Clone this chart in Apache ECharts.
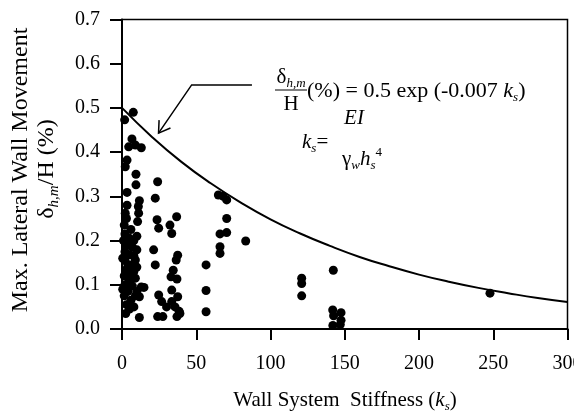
<!DOCTYPE html>
<html><head><meta charset="utf-8">
<script src="https://cdn.jsdelivr.net/npm/echarts@6/dist/echarts.min.js"></script>
<style>html,body{margin:0;padding:0;background:#fff}#c{width:574px;height:415px}</style>
</head><body><div id="c"></div>
<script>
// ---- data ----
const xTickLabels = ['0','50','100','150','200','250','300'];
const yTickLabels = ['0.0','0.1','0.2','0.3','0.4','0.5','0.6','0.7'];

const stiffness = [
  7.6,1.8,6.7,4.5,9,13,3.4,2.2,9.4,9.4,3.4,11.7,3.4,11,2.2,11.2,10.5,3,1.5,6,2,5,1,8,3,7,10,2,5,9,2,6,3,8,1.5,5,2,7,14.8,4,10,1.5,11.7,6,3,8,2.5,11.7,
  4,8,4,10,6,9,4,9,5,0.5,0.5,10,13,
  24,22.4,23.6,24.7,21.3,22.4,24.7,24,27.5,26.7,30,
  36.8,32.3,33.5,37.5,36.5,34.5,33,37,33.5,37.5,33.5,35.7,39,37,38.5,
  56.6,56.6,56.6,
  64.9,68.2,70.5,70.5,66,70.5,66,66,83.3,
  121,121,121,
  142.3,141.9,147.5,142.5,147.5,142,147,
  247.8
];
const movement = [
  0.49,0.473,0.43,0.412,0.416,0.41,0.382,0.367,0.35,0.326,0.309,0.29,0.28,0.277,0.262,0.262,0.243,0.25,0.235,0.225,0.215,0.205,0.2,0.2,0.19,0.185,0.179,0.175,0.168,0.156,0.155,0.145,0.135,0.13,0.12,0.11,0.1,0.097,0.094,0.085,0.085,0.075,0.073,0.065,0.055,0.05,0.035,0.026,
  0.19,0.165,0.145,0.14,0.125,0.115,0.095,0.075,0.045,0.16,0.09,0.21,0.095,
  0.333,0.296,0.247,0.228,0.179,0.145,0.077,0.028,0.028,0.062,0.05,
  0.254,0.235,0.216,0.167,0.156,0.133,0.118,0.113,0.088,0.073,0.062,0.05,0.035,0.028,0.04,
  0.145,0.087,0.039,
  0.303,0.30,0.292,0.25,0.215,0.218,0.186,0.171,0.199,
  0.115,0.103,0.075,
  0.133,0.043,0.037,0.03,0.02,0.008,0.01,
  0.081
];

const curveStiffness = [0,20,40,60,80,100,120,140,160,180,200,220,240,260,280,300];
const curveMovement  = [0.500,0.435,0.378,0.329,0.286,0.248,0.216,0.188,0.163,0.142,0.123,0.107,0.093,0.081,0.070,0.061];

// arrow annotation path in data coordinates (end, corner, tip)
const arrowPath = [[87.5,0.552],[46.9,0.552],[24.6,0.443]];

const FONT = "'Liberation Serif','Times New Roman',serif";

const chart = echarts.init(document.getElementById('c'), null, {renderer:'canvas'});

const option = {
  animation: false,
  backgroundColor: '#fff',
  grid: {left:122, right:6.5, top:19.5, bottom:86, containLabel:false, outerBoundsMode:'none',
         show:true, borderColor:'#000', borderWidth:1.5, backgroundColor:'transparent'},
  xAxis: {
    type:'value', min:0, max:300, interval:50,
    axisLine:{show:true, onZero:false, lineStyle:{color:'#000', width:2}},
    axisTick:{show:true, inside:false, length:11, lineStyle:{color:'#000', width:2}},
    axisLabel:{margin:25, color:'#000', fontFamily:FONT, fontSize:20, hideOverlap:false,
      showMaxLabel:true, showMinLabel:true,
      formatter:(v)=>{const i=xTickLabels.indexOf(String(v)); return i>=0?xTickLabels[i]:'';}},
    splitLine:{show:false}
  },
  yAxis: {
    type:'value', min:0, max:0.7, interval:0.1,
    axisLine:{show:true, onZero:false, lineStyle:{color:'#000', width:2}},
    axisTick:{show:true, inside:false, length:12, lineStyle:{color:'#000', width:2}},
    axisLabel:{margin:22, color:'#000', fontFamily:FONT, fontSize:20,
      formatter:(v)=>yTickLabels[Math.round(v*10)]},
    splitLine:{show:false}
  },
  series: [
    {
      type:'line', data: curveStiffness.map((x,i)=>[x,curveMovement[i]]),
      smooth:true, showSymbol:false, symbol:'none',
      lineStyle:{color:'#000', width:2}, z:3
    },
    {
      type:'scatter', data: stiffness.map((x,i)=>[x,movement[i]]),
      symbol:'circle', symbolSize:9, itemStyle:{color:'#000', opacity:1}, z:4
    }
  ]
};
chart.setOption(option);

const px = arrowPath.map(p=>chart.convertToPixel({gridIndex:0}, p));
const tip = px[2], corner = px[1];
const ang = Math.atan2(corner[1]-tip[1], corner[0]-tip[0]);
const armLen = 13, spread = 32*Math.PI/180;
const arm1 = [tip[0]+armLen*Math.cos(ang-spread), tip[1]+armLen*Math.sin(ang-spread)];
const arm2 = [tip[0]+armLen*Math.cos(ang+spread), tip[1]+armLen*Math.sin(ang+spread)];

const base = {fontFamily:FONT, fontSize:21, color:'#000', lineHeight:26, verticalAlign:'middle'};
const base22 = Object.assign({}, base, {fontSize:22});
const sub = {fontFamily:FONT, fontSize:13, color:'#000', lineHeight:13, verticalAlign:'bottom'};
const subI = Object.assign({}, sub, {fontStyle:'italic'});
const sup = {fontFamily:FONT, fontSize:13, color:'#000', lineHeight:13, verticalAlign:'top'};
const ital = Object.assign({}, base, {fontStyle:'italic'});
const ital22 = Object.assign({}, base22, {fontStyle:'italic'});

const yb = {fontFamily:FONT, fontSize:24, color:'#000', lineHeight:30, verticalAlign:'middle'};
const ys = {fontFamily:FONT, fontSize:15, color:'#000', lineHeight:15, verticalAlign:'bottom', fontStyle:'italic'};

chart.setOption({
  graphic: [
    {type:'polyline', shape:{points:px}, style:{stroke:'#000', lineWidth:1.5, fill:null}, z:10},
    {type:'polyline', shape:{points:[arm1, tip, arm2]}, style:{stroke:'#000', lineWidth:1.5, fill:null}, z:10},
    // equation 1
    {type:'text', x:291, y:77, style:{text:'{b|δ}{s|h,m}', rich:{b:base, s:subI}, align:'center', verticalAlign:'middle'}, z:10},
    {type:'line', shape:{x1:275, y1:90, x2:307, y2:90}, style:{stroke:'#000', lineWidth:1}, z:10},
    {type:'text', x:291, y:104, style:{text:'{b|H}', rich:{b:base}, align:'center', verticalAlign:'middle'}, z:10},
    {type:'text', x:307, y:91, style:{text:'{b|(%) = 0.5 exp (-0.007 }{i|k}{s|s}{b|)}', rich:{b:base22, i:ital22, s:subI}, align:'left', verticalAlign:'middle'}, z:10},
    // equation 2
    {type:'text', x:302, y:142, style:{text:'{i|k}{s|s}{b|=}', rich:{b:base, i:ital, s:subI}, align:'left', verticalAlign:'middle'}, z:10},
    {type:'text', x:354, y:118, style:{text:'{i|EI}', rich:{i:ital}, align:'center', verticalAlign:'middle'}, z:10},
    {type:'text', x:362, y:159, style:{text:'{b|γ}{s|w}{i|h}{s|s}{p|4}', rich:{b:base, i:ital, s:subI, p:sup}, align:'center', verticalAlign:'middle'}, z:10},
    // axis titles
    {type:'text', x:345, y:400, style:{text:'{b|Wall System  Stiffness (}{i|k}{s|s}{b|)}', rich:{b:base, i:ital, s:subI}, align:'center', verticalAlign:'middle'}, z:10},
    {type:'text', x:21, y:170, rotation:Math.PI/2, style:{text:'{b|Max. Lateral Wall Movement}', rich:{b:yb}, align:'center', verticalAlign:'middle'}, z:10},
    {type:'text', x:47, y:169, rotation:Math.PI/2, style:{text:'{b|δ}{s|h,m}{b|/H (%)}', rich:{b:yb, s:ys}, align:'center', verticalAlign:'middle'}, z:10}
  ]
});
</script>
</body></html>
